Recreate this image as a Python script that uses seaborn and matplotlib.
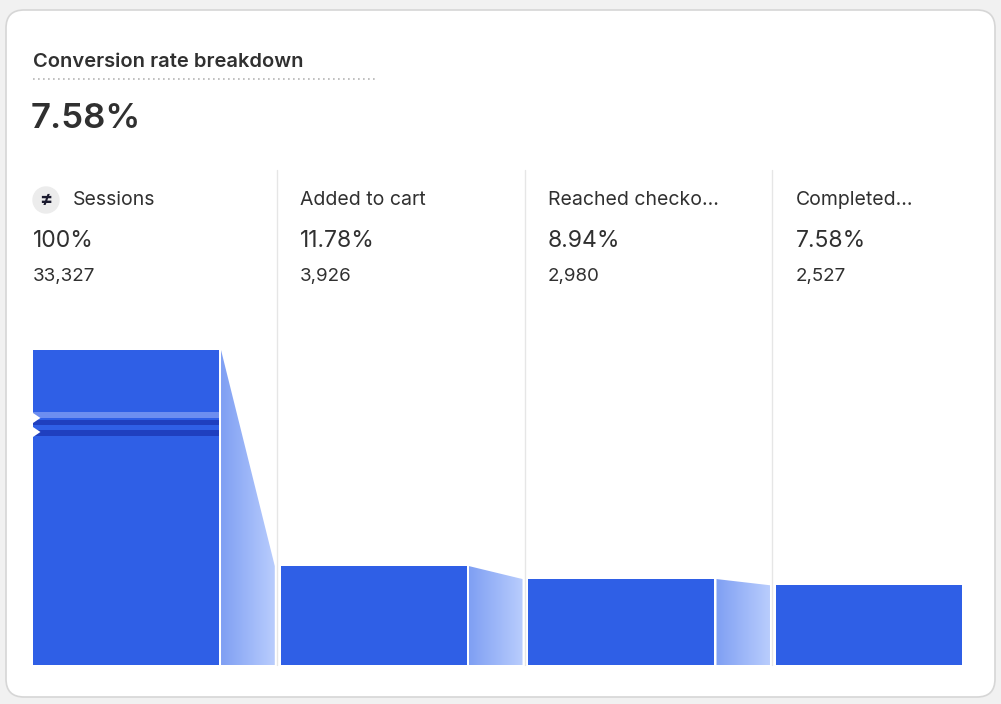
import matplotlib
matplotlib.use("Agg")
import matplotlib.pyplot as plt
import seaborn as sns
import numpy as np
import pandas as pd
from matplotlib.patches import FancyBboxPatch, Polygon, Rectangle
from matplotlib.colors import LinearSegmentedColormap

stages = ["Sessions", "Added to cart", "Reached checko...", "Completed..."]
pcts = [100, 11.78, 8.94, 7.58]
pct_labels = ["100%", "11.78%", "8.94%", "7.58%"]
counts = ["33,327", "3,926", "2,980", "2,527"]
title = "Conversion rate breakdown"
headline = "7.58%"

sns.set_theme(style="white")
plt.rcParams['font.family'] = ['Inter', 'DejaVu Sans']

W, H = 1001, 704
fig = plt.figure(figsize=(W/100, H/100), dpi=100)
fig.patch.set_facecolor("#f1f1f1")
bg = fig.add_axes([0, 0, 1, 1]); bg.set_xlim(0, W); bg.set_ylim(H, 0); bg.axis("off")
bg.add_patch(FancyBboxPatch((6, 10), 989, 687, boxstyle="round,pad=0,rounding_size=18",
                            fc="white", ec="#d6d6d6", lw=1.2))
bg.text(33, 62, title, fontsize=14.5, fontweight="semibold", color="#303030", va="center")
bg.plot([33, 378], [79, 79], ls=(0, (1, 2)), color="#b5b5b5", lw=1.2)
bg.text(31, 119, headline, fontsize=25, fontweight="semibold", color="#303030", va="center")
for xs in [277, 525, 772]:
    bg.plot([xs, xs], [170, 665], color="#e6e6e6", lw=1)
cols = [33, 300, 548, 796]
for i, x in enumerate(cols):
    tx = x + (40 if i == 0 else 0)
    bg.text(tx, 200, stages[i], fontsize=14, color="#303030", va="center")
    bg.text(x, 241, pct_labels[i], fontsize=16.5, color="#303030", va="center")
    bg.text(x, 276, counts[i], fontsize=13.5, color="#303030", va="center")
bg.add_patch(plt.Circle((46, 200), 13, color="#ececec"))
bg.text(46, 200, "≠", fontsize=14, ha="center", va="center", color="#1a1a2e", fontweight="bold")

# chart axes: linear scale with offset baseline
b = 4.58               # px per %
base = -45 / b         # baseline value
ymax = base + 315 / b
ax = fig.add_axes([33/W, 1-665/H, (962-33)/W, (665-350)/H])
df = pd.DataFrame({"stage": stages, "pct": pcts})
sns.barplot(data=df, x="stage", y="pct", color="#2f5fe6", saturation=1, width=0.75, ax=ax)
for p in ax.patches:
    h = p.get_height()
    p.set_y(base); p.set_height(h - base)
    p.set_edgecolor("none")
ax.set_ylim(base, ymax)
ax.set_xlim(-0.375, 3.375)
ax.axis("off")

grad = np.linspace(0, 1, 256).reshape(1, -1)
cmap = LinearSegmentedColormap.from_list("g", ["#7f9ff3", "#b9cdfd"])
for i in range(3):
    x0 = i + 0.375 + 0.009
    x1 = i + 1 - 0.375 - 0.024
    y0 = min(pcts[i], ymax); y1 = pcts[i+1]
    poly = Polygon([(x0, base), (x0, y0), (x1, y1), (x1, base)], closed=True, fc="none", ec="none")
    ax.add_patch(poly)
    im = ax.imshow(grad, extent=[x0, x1, base, y0], aspect="auto", cmap=cmap, zorder=1)
    im.set_clip_path(poly)
ax.set_xlim(-0.375, 3.375); ax.set_ylim(base, ymax)

def ypx(p):
    return base + (665 - p) / b
ax.add_patch(Rectangle((-0.375, ypx(418)), 0.75, ypx(412)-ypx(418), fc="#6d8ef0", ec="none", zorder=3))
ax.add_patch(Rectangle((-0.375, ypx(425)), 0.75, ypx(420)-ypx(425), fc="#1f3fbf", ec="none", zorder=3))
ax.add_patch(Rectangle((-0.375, ypx(436)), 0.75, ypx(430)-ypx(436), fc="#1f3fbf", ec="none", zorder=3))
for yc in [418, 432]:
    ax.add_patch(Polygon([(-0.375, ypx(yc-5)), (-0.345, ypx(yc)), (-0.375, ypx(yc+5))],
                         fc="white", ec="none", zorder=4))

fig.savefig("out.png", dpi=100, facecolor=fig.get_facecolor())
